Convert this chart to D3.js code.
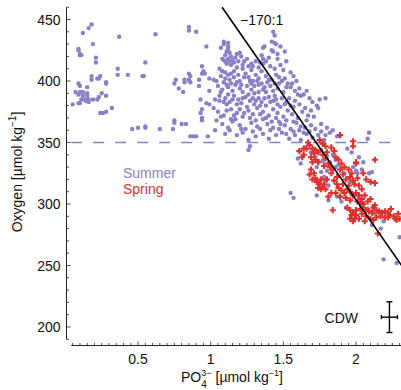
<!DOCTYPE html>
<html>
<head>
<meta charset="utf-8">
<script src="https://d3js.org/d3.v7.min.js"></script>
<style>
  body { margin: 0; background: #fff; }
  text { font-family: "Liberation Sans", Arial, sans-serif; }
</style>
</head>
<body>
<script>
// phosphate [umol/kg], oxygen [umol/kg]
var summer = [
  // low-phosphate group
  [0.18,446],[0.16,443],[0.12,439],[0.19,430],[0.09,426],[0.09,425],[0.10,422],[0.10,421],[0.11,421],
  [0.21,419],[0.21,415],[0.37,436],[0.62,438],[0.55,415],[0.36,410],[0.36,405],[0.43,405],[0.53,404],
  [0.54,404],[0.18,404],[0.18,401],[0.22,402],[0.23,402],[0.24,404],[0.28,399],[0.28,398],[0.09,398],
  [0.10,396],[0.15,395],[0.07,391],[0.10,391],[0.09,389],[0.12,391],[0.12,388],[0.15,390],[0.15,388],
  [0.25,390],[0.28,388],[0.23,387],[0.11,385],[0.13,385],[0.15,385],[0.16,385],[0.19,385],[0.22,385],
  [0.16,383],[0.14,384],[0.05,381],[0.09,382],[0.10,382],[0.24,374],[0.26,374],[0.28,375],[0.32,378],
  [0.46,361],[0.50,362],[0.55,363],[0.55,362],[0.65,361],
  // sparse middle
  [0.74,361],[0.75,368],[0.75,366],[0.80,365],[0.83,365],[0.86,355],[0.88,355],[0.90,355],[0.85,444],
  [0.85,441],[0.90,440],[0.75,398],[0.76,401],[0.85,401],[0.86,399],[0.86,404],[0.85,406],[0.92,401],
  [0.92,396],[0.93,385],[0.97,428],[0.94,412],[0.95,408],[0.96,406],[0.94,406],[0.82,401],[0.82,399],
  [0.97,382],[0.99,381],[0.94,377],[0.94,370],[0.94,368],[0.98,355],[1.03,360],[0.78,394],[0.81,391],
  [0.99,392],[0.93,374],
  // main group
  [1.43,440],[1.44,437],
  [1.09,432],[1.09,430],[1.12,431],[1.12,428],[1.12,426],[1.42,432],[1.44,431],[1.45,430],[1.37,428],
  [1.36,427],[1.42,425],[1.43,424],[1.20,423],[1.18,422],[1.21,420],[1.48,428],[1.51,424],[1.46,422],
  [1.11,424],[1.13,423],[1.08,418],[1.09,417],[1.10,416],[1.12,418],[1.13,416],[1.15,417],[1.16,415],
  [1.11,414],[1.14,413],[1.35,421],[1.36,418],[1.34,415],[1.36,414],[1.52,416],[1.28,414],[1.29,412],
  [1.28,409],[1.25,418],[1.23,416],[1.07,427],[1.10,421],[1.14,420],[1.17,419],[1.19,416],[1.22,413],
  [1.26,412],[1.31,416],[1.33,411],[1.38,416],[1.40,419],[1.41,412],[1.46,418],[1.48,413],[1.50,409],
  [1.55,407],[1.57,404],[1.59,400],
  [1.06,410],[1.08,408],[1.10,407],[1.12,405],[1.14,406],[1.16,408],[1.07,404],[1.10,402],[1.13,401],
  [1.16,403],[1.19,405],[1.20,400],[1.22,410],[1.24,406],[1.26,403],[1.27,400],[1.31,405],[1.33,402],
  [1.35,408],[1.38,404],[1.40,401],[1.45,405],[1.47,403],[1.49,400],[1.51,402],[1.53,398],[1.44,410],
  [1.02,401],[1.04,400],[0.99,402],[1.18,411],[1.29,400],
  [1.09,399],[1.11,397],[1.14,398],[1.18,399],[1.21,397],[1.23,403],[1.28,398],[1.30,396],[1.32,400],
  [1.35,398],[1.37,395],[1.39,399],[1.42,401],[1.44,398],[1.52,395],[1.56,398],[1.61,394],[1.66,392],
  [1.68,386],[1.70,383],
  [1.05,396],[1.08,393],[1.12,395],[1.15,392],[1.17,397],[1.20,394],[1.22,391],[1.25,396],[1.28,393],
  [1.30,390],[1.33,397],[1.36,393],[1.38,391],[1.41,396],[1.43,392],[1.46,394],[1.50,391],[1.55,395],
  [1.58,392],[1.60,389],[1.62,388],[1.64,389],[1.07,391],[1.33,391],[1.47,398],
  [1.03,385],[1.06,384],[1.10,386],[1.13,383],[1.16,388],[1.19,385],[1.21,382],[1.24,387],[1.27,384],
  [1.30,381],[1.33,386],[1.35,383],[1.38,380],[1.40,387],[1.43,384],[1.46,381],[1.49,386],[1.52,383],
  [1.55,380],[1.58,384],[1.75,385],[1.79,386],[1.11,381],[1.44,388],
  [1.06,388],[1.09,383],[1.12,389],[1.15,385],[1.18,381],[1.22,386],[1.26,389],[1.29,386],[1.31,384],
  [1.34,380],[1.37,386],[1.41,383],[1.45,385],[1.48,379],[1.51,381],[1.54,386],[1.57,379],[1.61,381],
  [1.65,378],[1.69,376],[1.71,371],
  [1.02,378],[1.05,375],[1.09,372],[1.14,377],[1.18,374],[1.22,371],[1.26,376],[1.29,373],[1.32,378],
  [1.36,375],[1.40,372],[1.43,377],[1.46,374],[1.50,371],[1.53,376],[1.56,373],[1.60,370],[1.63,375],
  [1.73,380],[1.74,378],[1.67,372],[1.25,379],
  [1.07,371],[1.11,376],[1.16,372],[1.20,377],[1.23,374],[1.27,370],[1.31,368],[1.34,373],[1.38,370],
  [1.42,367],[1.45,370],[1.48,365],[1.52,368],[1.57,367],[1.61,360],[1.64,358],[1.68,359],[1.76,365],
  [1.80,362],[1.84,360],
  [1.04,368],[1.08,365],[1.12,362],[1.15,367],[1.20,364],[1.24,361],[1.28,366],[1.32,363],[1.36,369],
  [1.39,365],[1.43,362],[1.47,367],[1.51,364],[1.55,361],[1.59,366],[1.62,363],[1.66,368],[1.69,364],
  [1.72,361],[1.17,369],[1.14,369],
  [1.13,360],[1.21,361],[1.29,359],[1.34,361],[1.41,360],[1.47,361],[1.52,357],[1.57,359],[1.65,362],
  [1.76,359],[1.79,356],
  [1.10,357],[1.18,356],[1.22,358],[1.26,352],[1.31,355],[1.36,357],[1.40,353],[1.45,356],[1.49,358],
  [1.54,353],[1.58,356],[1.62,352],[1.66,357],[1.70,354],[1.74,356],[1.78,352],[1.82,358],[1.87,355],
  [1.78,349],[2.09,358],[2.08,353],
  // below 350
  [1.26,344],[1.27,347],[1.55,309],[1.57,305],[1.65,346],[1.69,342],[1.72,338],[1.74,335],[1.73,330],
  [1.76,326],[1.78,322],[1.75,318],[1.79,319],[1.81,315],[1.84,340],[1.86,336],[1.88,332],[1.90,328],
  [1.92,325],[1.94,321],[1.96,318],[1.98,330],[2.00,327],[2.01,325],[2.04,328],[2.09,325],[2.11,326],
  [1.94,345],[1.97,342],[2.02,338],[2.05,334],[1.60,337],[1.62,333],[1.99,307],[2.02,305],[2.05,300],
  [2.08,296],[2.12,298],[2.15,293],[2.19,286],[2.17,280],[2.13,292],[2.30,273],[2.19,255],[2.28,252],
  [1.90,302],[1.87,306],[1.93,297],[1.73,307],[1.81,303],[2.11,283],
  [1.76,344],[1.80,339],[1.82,334],[1.86,330],[1.77,335],[1.80,327]
];

var spring = [
  [1.89,356],[1.98,351],[1.98,347],[2.13,336],[1.61,343],[1.64,340],[1.63,338],[1.64,345],
  [1.68,348],[1.70,345],[1.72,344],[1.74,342],[1.71,341],[1.69,338],[1.72,336],[1.74,334],[1.70,334],
  [1.66,345],[1.67,350],[1.75,352],[1.77,349],[1.79,347],
  [1.77,340],[1.79,337],[1.81,333],[1.78,331],[1.82,330],[1.83,325],[1.84,328],[1.86,338],[1.88,336],
  [1.90,333],[1.89,328],[1.92,330],[1.95,328],[1.97,325],[1.96,322],[1.93,320],[1.91,324],[1.87,322],
  [1.85,343],[1.83,346],[1.80,342],[1.69,328],[1.71,325],[1.70,320],[1.68,324],
  [2.00,334],[2.00,333],[2.10,318],[2.13,317],[2.05,325],[2.07,320],
  [1.73,318],[1.75,316],[1.77,314],[1.79,312],[1.76,312],[1.78,316],[1.74,313],[1.80,320],[1.72,321],
  [1.76,320],
  [1.85,319],[1.87,316],[1.88,313],[1.90,311],[1.92,309],[1.94,312],[1.96,310],[1.98,307],[2.00,309],
  [2.02,307],[2.04,304],[2.01,302],[2.03,301],[2.05,300],[2.08,302],[2.10,304],[2.06,307],[2.04,312],
  [2.02,315],[1.99,316],[1.98,319],[2.01,321],[1.95,315],[1.91,316],[1.89,306],[1.93,305],[1.96,303],
  [1.86,309],[1.83,309],[1.81,306],
  [1.84,295],
  [1.94,297],[1.96,295],[1.98,293],[2.00,291],[1.97,291],[2.00,295],[2.03,296],[2.05,297],[2.07,295],
  [2.09,294],[2.11,293],[2.14,295],[2.16,294],[2.18,293],[2.20,294],[2.22,293],[2.23,291],[2.26,290],
  [2.27,288],[2.22,289],[2.20,289],[2.17,290],[2.14,289],[2.10,288],[2.07,290],[2.04,292],[2.02,288],
  [1.99,288],[1.96,288],[1.98,286],[2.06,286],[2.12,287],[2.24,296],[2.29,292],[2.30,288],[2.28,287],
  [2.15,276],[2.12,297],[2.13,299]
];

var xMajor = [0.5, 1, 1.5, 2];
var yMajor = [200, 250, 300, 350, 400, 450];
var slope = -170, lineO = 643.3;         // O2 = lineO + slope * PO4
var threshold = 350;
var cdw = {p: 2.23, o: 208, dp: 0.055, dO: 12.5};

var W = 401, H = 390;
var purple = "#8a80c6", red = "#e0302b";

var svg = d3.select("body").append("svg")
    .attr("width", W).attr("height", H);

var x = d3.scaleLinear().domain([0, 2.3]).range([65.4, 399.6]);
var y = d3.scaleLinear().domain([200, 450]).range([327, 19.5]);

var xMin = 0.04, yMin = 190, yMax = 460;

// y axis (ticks inward)
var yAxisG = svg.append("g").attr("transform", "translate(66.5,0)");
yAxisG.append("line").attr("y1", y(yMin)).attr("y2", y(yMax))
    .attr("stroke", "#222").attr("stroke-width", 1);
yAxisG.selectAll("line.minor").data(d3.range(yMin, yMax + 1, 10)).enter()
  .append("line").attr("class", "minor")
    .attr("x1", 0).attr("x2", function (d) { return yMajor.indexOf(d) >= 0 ? 4 : 2.5; })
    .attr("y1", function (d) { return y(d); }).attr("y2", function (d) { return y(d); })
    .attr("stroke", "#222").attr("stroke-width", 0.8);
yAxisG.selectAll("text").data(yMajor).enter().append("text")
    .attr("x", -6).attr("y", function (d) { return y(d) + 5; })
    .attr("text-anchor", "end").style("font-size", "14px").attr("fill", "#111")
    .text(function (d) { return d; });

// x axis (ticks inward)
var xAxisG = svg.append("g").attr("transform", "translate(0,345.5)");
xAxisG.append("line").attr("x1", x(xMin)).attr("x2", W)
    .attr("stroke", "#222").attr("stroke-width", 1);
xAxisG.selectAll("line.minor").data(d3.range(1, 47).map(function (i) { return i * 0.05; })).enter()
  .append("line").attr("class", "minor")
    .attr("y1", 0).attr("y2", function (d) { return Math.abs(d * 2 - Math.round(d * 2)) < 1e-6 ? -4 : -2.5; })
    .attr("x1", function (d) { return x(d); }).attr("x2", function (d) { return x(d); })
    .attr("stroke", "#222").attr("stroke-width", 0.8);
xAxisG.selectAll("text").data(xMajor).enter().append("text")
    .attr("x", function (d) { return x(d); }).attr("y", 18.5)
    .attr("text-anchor", "middle").style("font-size", "14px").attr("fill", "#111")
    .text(function (d) { return d; });

// x title: PO4^3- [umol kg^-1]
var xt = svg.append("g").attr("transform", "translate(181,381.5)").style("font-size", "14px").attr("fill", "#111");
var t1 = xt.append("text").text("PO");
var w1 = t1.node().getComputedTextLength();
var sup = xt.append("text").attr("x", w1).attr("y", -6).style("font-size", "9px").text("3\u2212");
xt.append("text").attr("x", w1).attr("y", 6.5).style("font-size", "10px").text("4");
var w2 = w1 + sup.node().getComputedTextLength() + 4;
var t3 = xt.append("text").attr("x", w2).text("[\u00b5mol kg");
var w3 = w2 + t3.node().getComputedTextLength();
var s2 = xt.append("text").attr("x", w3).attr("y", -6).style("font-size", "9px").text("\u22121");
xt.append("text").attr("x", w3 + s2.node().getComputedTextLength()).text("]");

// y title
var yt = svg.append("text").attr("transform", "translate(21.5,172) rotate(-90)")
    .attr("text-anchor", "middle").style("font-size", "14px").attr("fill", "#111");
yt.append("tspan").text("Oxygen [\u00b5mol kg");
yt.append("tspan").attr("dy", -6).style("font-size", "10px").text("\u22121");
yt.append("tspan").attr("dy", 6).text("]");

// 350 threshold
svg.append("line")
    .attr("x1", x(xMin)).attr("x2", W)
    .attr("y1", y(threshold)).attr("y2", y(threshold))
    .attr("stroke", purple).attr("stroke-width", 1.6)
    .attr("stroke-dasharray", "11,11");

// points
var plot = svg.append("g");
plot.selectAll("circle").data(summer).enter().append("circle")
    .attr("cx", function (d) { return x(d[0]); })
    .attr("cy", function (d) { return y(d[1]); })
    .attr("r", 2.2).attr("fill", purple);

var cross = d3.symbol().type(d3.symbolCross).size(21);
plot.selectAll("path.sp").data(spring).enter().append("path").attr("class", "sp")
    .attr("d", cross)
    .attr("transform", function (d) { return "translate(" + x(d[0]) + "," + y(d[1]) + ")"; })
    .attr("fill", red);

// -170:1 mixing line
var p0 = (yMax - lineO) / slope, p1 = 2.32;
svg.append("line")
    .attr("x1", x(p0)).attr("y1", y(lineO + slope * p0))
    .attr("x2", x(p1)).attr("y2", y(lineO + slope * p1))
    .attr("stroke", "#000").attr("stroke-width", 1.6);

svg.append("text").attr("x", 240).attr("y", 25).style("font-size", "14px").attr("fill", "#111")
    .text("\u2212170:1");

// legend labels
svg.append("text").attr("x", 123).attr("y", 178).style("font-size", "14px").attr("fill", purple).text("Summer");
svg.append("text").attr("x", 123).attr("y", 194).style("font-size", "14px").attr("fill", red).text("Spring");

// CDW error bars
var eb = svg.append("g").attr("stroke", "#000").attr("stroke-width", 1.4);
eb.append("line").attr("x1", x(cdw.p)).attr("x2", x(cdw.p))
    .attr("y1", y(cdw.o - cdw.dO)).attr("y2", y(cdw.o + cdw.dO));
eb.append("line").attr("x1", x(cdw.p - cdw.dp)).attr("x2", x(cdw.p + cdw.dp))
    .attr("y1", y(cdw.o)).attr("y2", y(cdw.o));
[cdw.o - cdw.dO, cdw.o + cdw.dO].forEach(function (v) {
  eb.append("line").attr("x1", x(cdw.p) - 3).attr("x2", x(cdw.p) + 3)
      .attr("y1", y(v)).attr("y2", y(v));
});
[cdw.p - cdw.dp, cdw.p + cdw.dp].forEach(function (v) {
  eb.append("line").attr("x1", x(v)).attr("x2", x(v))
      .attr("y1", y(cdw.o) - 2).attr("y2", y(cdw.o) + 2);
});
svg.append("text").attr("x", 358).attr("y", 323).attr("text-anchor", "end")
    .style("font-size", "14px").attr("fill", "#111").text("CDW");
</script>
</body>
</html>
